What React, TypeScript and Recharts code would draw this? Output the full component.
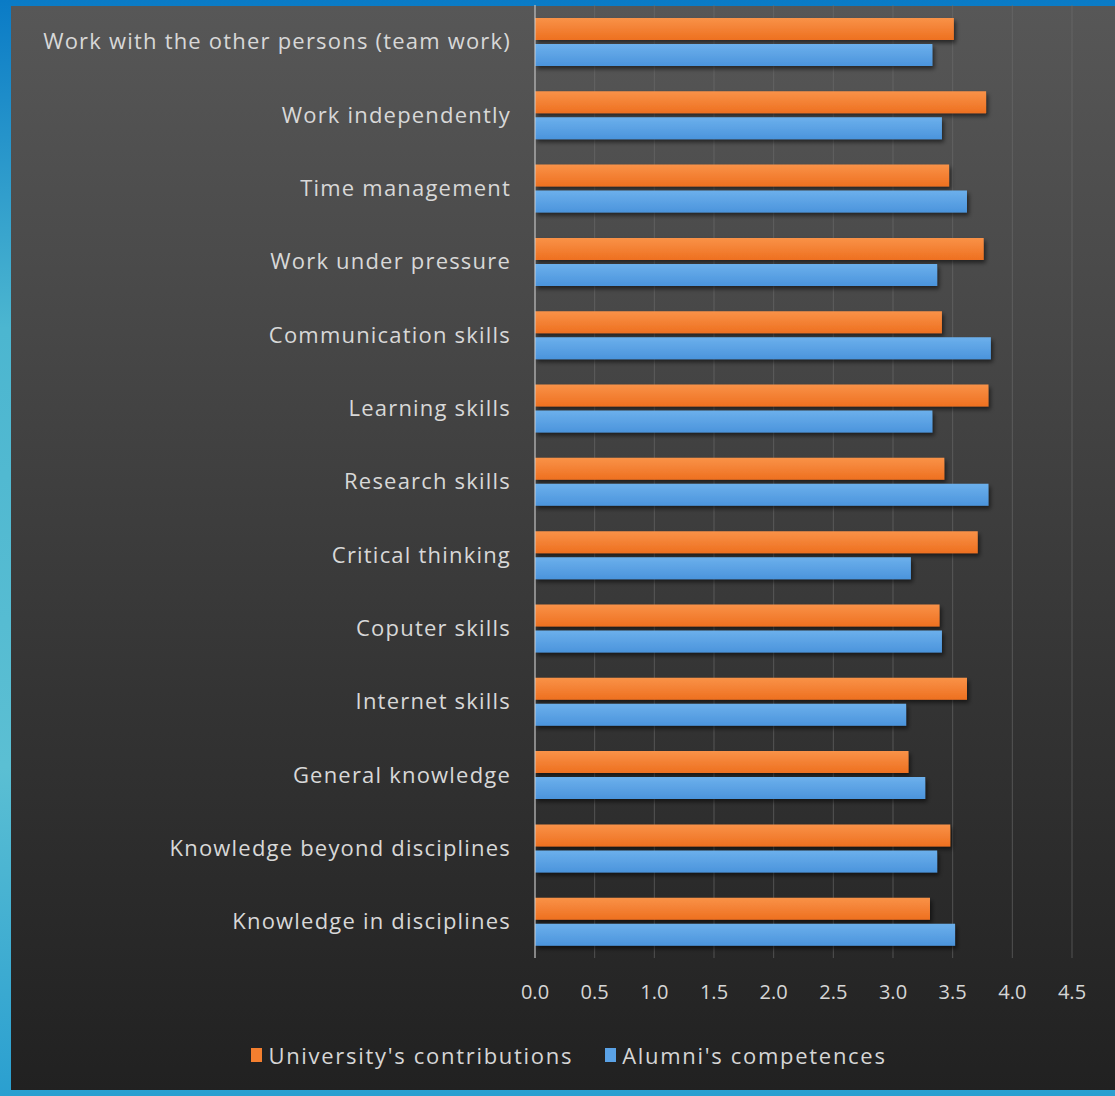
import React from "react";
import {
  BarChart,
  Bar,
  XAxis,
  YAxis,
  CartesianGrid,
  Legend,
} from "recharts";

const skills = [
  "Work with the other persons (team work)",
  "Work independently",
  "Time management",
  "Work under pressure",
  "Communication skills",
  "Learning skills",
  "Research skills",
  "Critical thinking",
  "Coputer skills",
  "Internet skills",
  "General knowledge",
  "Knowledge beyond disciplines",
  "Knowledge in disciplines",
];

const universityContributions = [
  3.51, 3.78, 3.47, 3.76, 3.41, 3.8, 3.43, 3.71, 3.39, 3.62, 3.13, 3.48, 3.31,
];
const alumniCompetences = [
  3.33, 3.41, 3.62, 3.37, 3.82, 3.33, 3.8, 3.15, 3.41, 3.11, 3.27, 3.37, 3.52,
];

const xTicks = [0, 0.5, 1, 1.5, 2, 2.5, 3, 3.5, 4, 4.5];

const data = skills.map((skill, i) => ({
  skill,
  university: universityContributions[i],
  alumni: alumniCompetences[i],
}));

const FONT = "'Open Sans', 'Noto Sans', sans-serif";

function LegendContent() {
  const items = [
    { label: "University's contributions", color: "#f47f2f" },
    { label: "Alumni's competences", color: "#5aa2e6" },
  ];
  return (
    <div
      style={{
        display: "flex",
        justifyContent: "center",
        gap: 32,
        paddingLeft: 66,
        paddingTop: 20,
        fontFamily: FONT,
        fontSize: 22,
        letterSpacing: 1.7,
        color: "#d6d6d6",
      }}
    >
      {items.map((it) => (
        <div key={it.label} style={{ display: "flex", alignItems: "center" }}>
          <span
            style={{
              display: "inline-block",
              width: 11,
              height: 14,
              background: it.color,
              marginRight: 6,
            }}
          />
          {it.label}
        </div>
      ))}
    </div>
  );
}

export default function App() {
  return (
    <div
      style={{
        position: "absolute",
        left: 0,
        top: 0,
        width: 1115,
        height: 1096,
        background: "linear-gradient(180deg, #0a7bc6 0%, #4cb6d0 30%, #5bbfd3 70%, #2a9fd0 100%)",
        overflow: "hidden",
      }}
    >
      <div
        style={{
          position: "absolute",
          left: 11,
          top: 6,
          width: 1104,
          height: 1084,
          background: "linear-gradient(180deg, #575757 0%, #474747 30%, #333333 65%, #212121 100%)",
        }}
      />
      <div style={{ position: "absolute", left: 0, top: 0 }}>
        <BarChart
          width={1115}
          height={1096}
          data={data}
          layout="vertical"
          margin={{ top: 5, right: 43, bottom: 0, left: 0 }}
          barSize={22}
          barGap={4}
        >
          <defs>
            <linearGradient id="gOrange" x1="0" y1="0" x2="0" y2="1">
              <stop offset="0%" stopColor="#f99248" />
              <stop offset="100%" stopColor="#ee7020" />
            </linearGradient>
            <linearGradient id="gBlue" x1="0" y1="0" x2="0" y2="1">
              <stop offset="0%" stopColor="#6cb0ec" />
              <stop offset="100%" stopColor="#4b94dc" />
            </linearGradient>
            <filter id="shadow" x="-5%" y="-30%" width="110%" height="190%">
              <feDropShadow dx="2" dy="3" stdDeviation="2" floodColor="#000" floodOpacity="0.55" />
            </filter>
          </defs>
          <CartesianGrid horizontal={false} stroke="#6e6e6e" strokeOpacity={0.6} />
          <XAxis
            type="number"
            domain={[0, 4.5]}
            ticks={xTicks}
            tickFormatter={(v: number) => v.toFixed(1)}
            axisLine={false}
            tickLine={false}
            tickSize={0}
            tickMargin={27}
            height={62}
            tick={{ fill: "#d6d6d6", fontSize: 20, fontFamily: FONT }}
            interval={0}
          />
          <YAxis
            type="category"
            dataKey="skill"
            width={535}
            axisLine={{ stroke: "#d0d0d0", strokeWidth: 1 }}
            tickLine={false}
            tickSize={0}
            tickMargin={24}
            interval={0}
            tick={{ fill: "#d8d8d8", fontSize: 22, fontFamily: FONT, letterSpacing: 1.2 }}
          />
          <Legend verticalAlign="bottom" height={76} content={<LegendContent />} />
          <Bar
            dataKey="university"
            name="University's contributions"
            fill="url(#gOrange)"
            filter="url(#shadow)"
            isAnimationActive={false}
          />
          <Bar
            dataKey="alumni"
            name="Alumni's competences"
            fill="url(#gBlue)"
            filter="url(#shadow)"
            isAnimationActive={false}
          />
        </BarChart>
      </div>
    </div>
  );
}
